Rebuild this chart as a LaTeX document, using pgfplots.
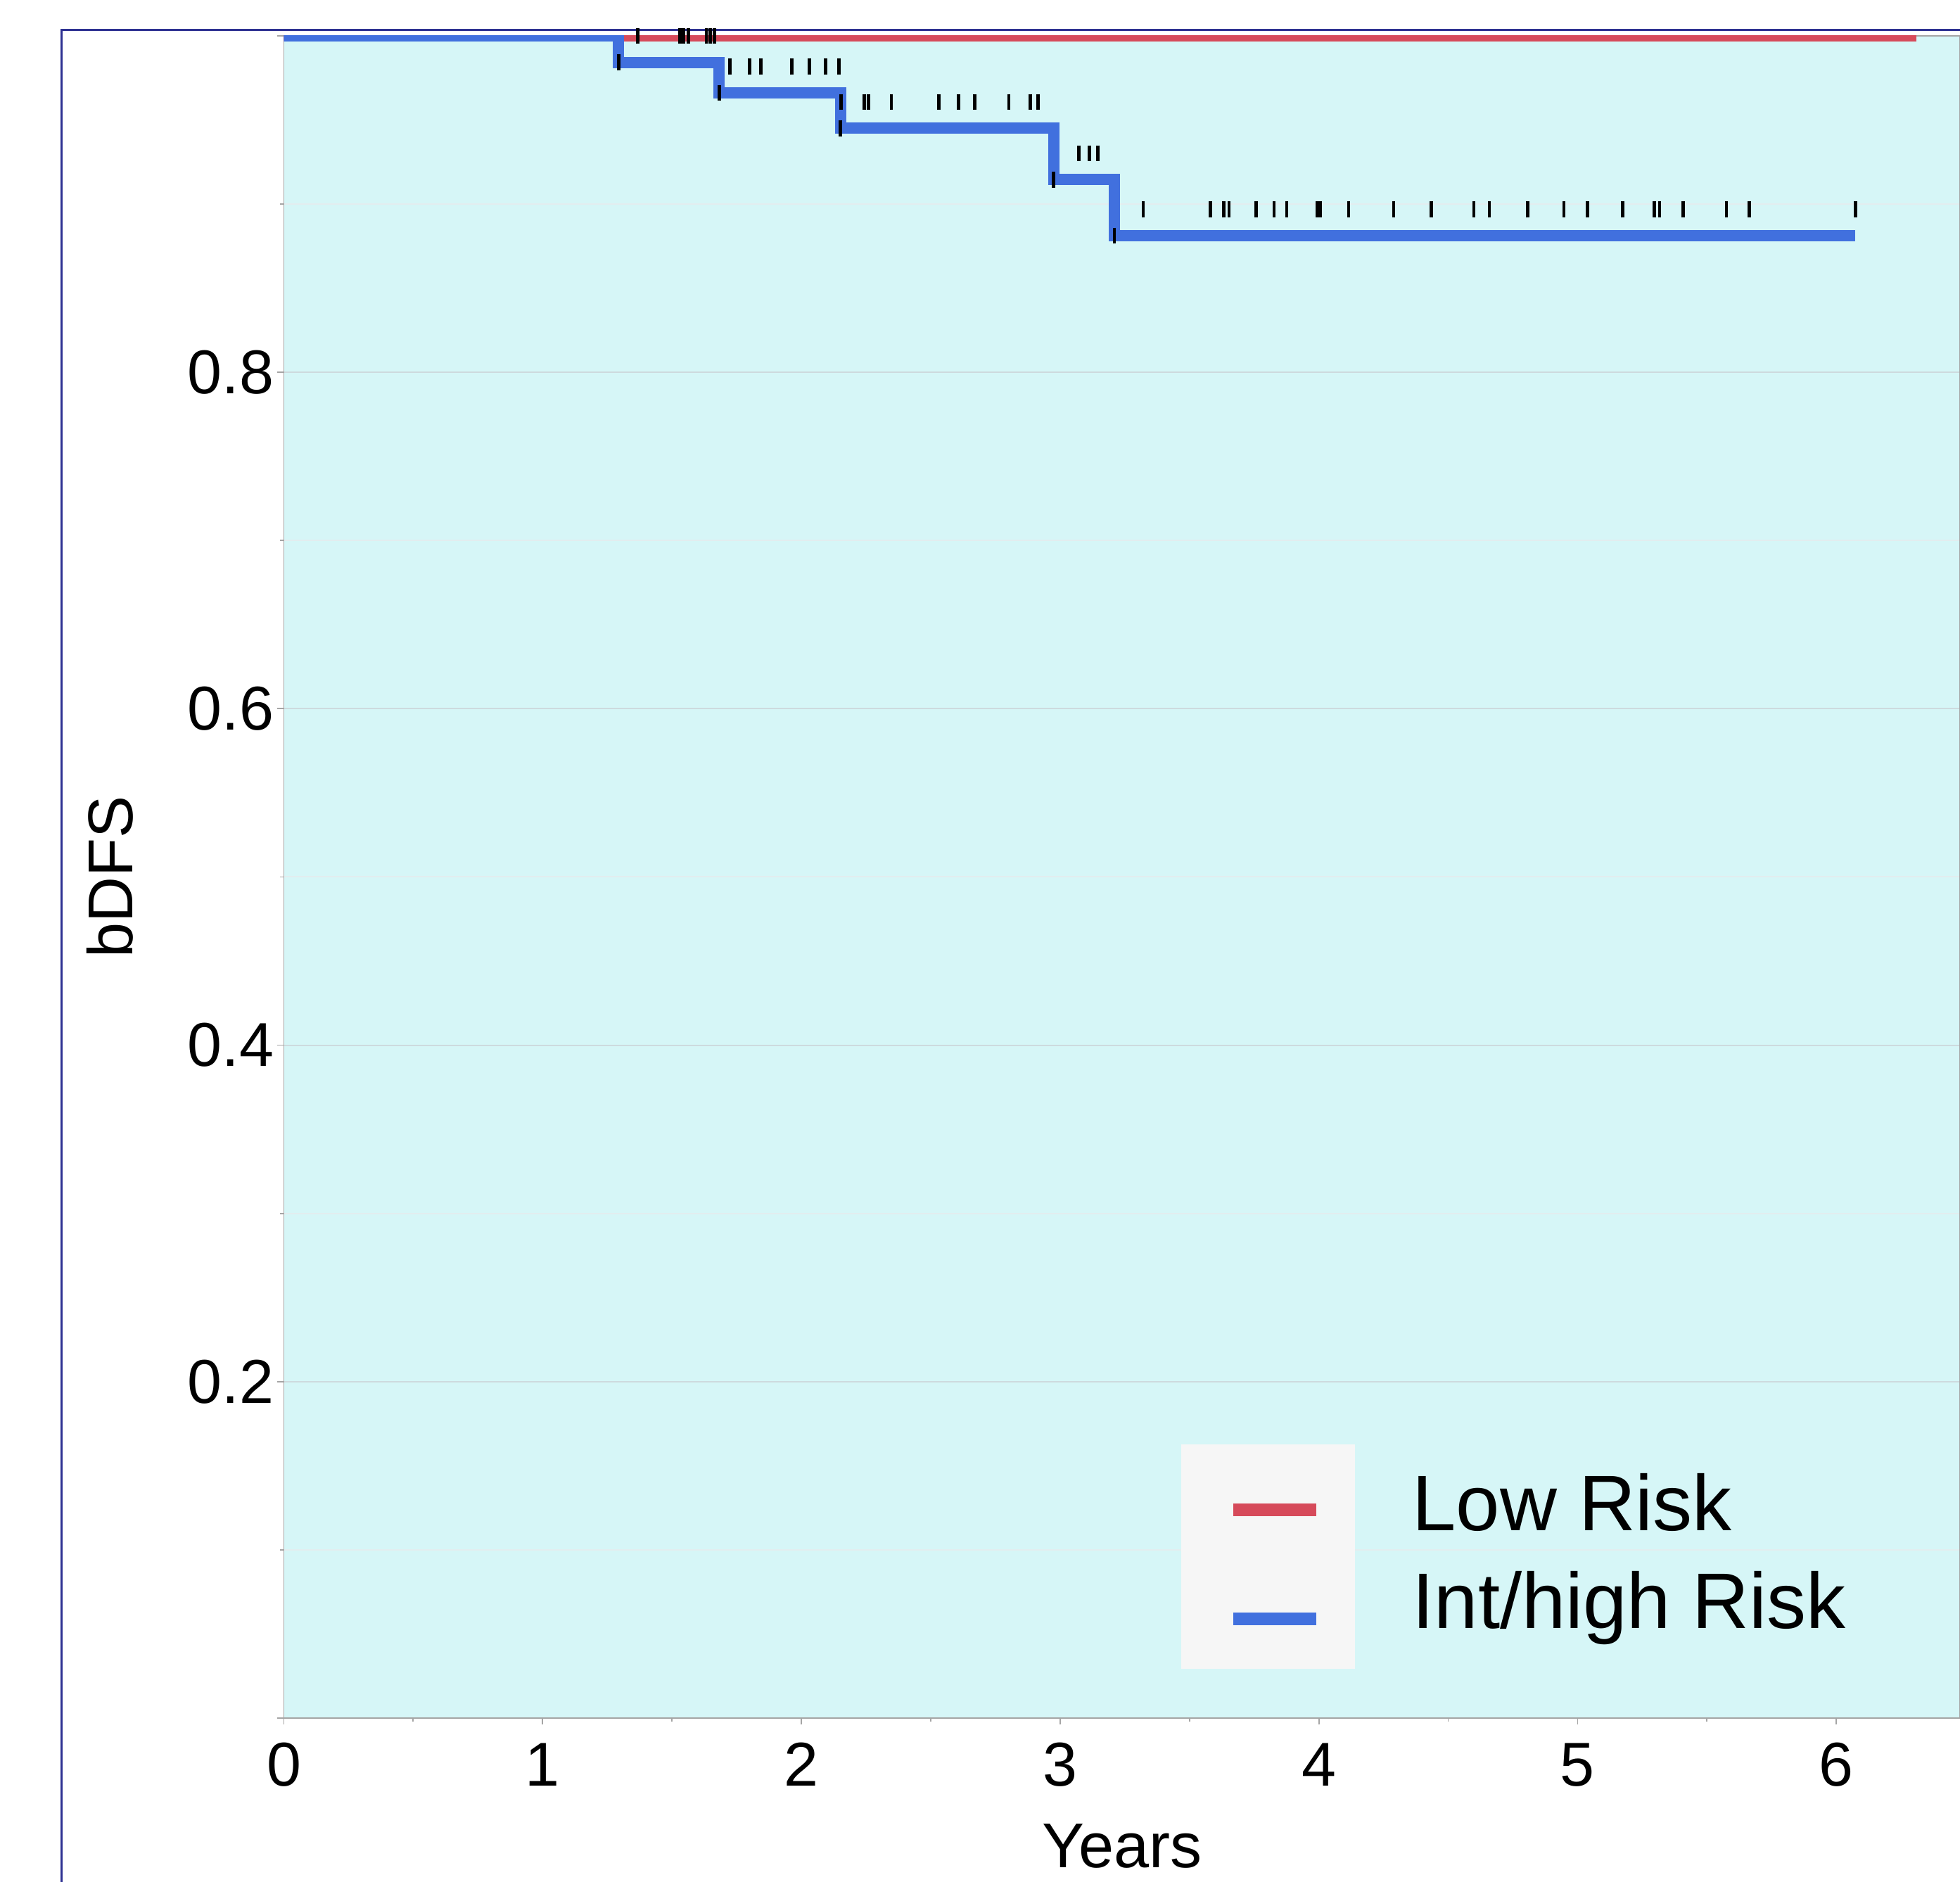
\documentclass[border=0pt]{standalone}
\usepackage{pgfplots}
\pgfplotsset{compat=1.18}
\usepackage{fontspec}
\setmainfont{Liberation Sans}
\definecolor{lowred}{RGB}{214,74,90}
\definecolor{highblue}{RGB}{65,112,222}
\definecolor{bgcyan}{RGB}{214,246,247}
\definecolor{legbg}{RGB}{246,246,246}
\definecolor{framenavy}{RGB}{46,49,146}
\definecolor{axgray}{RGB}{165,165,165}
\definecolor{gridmaj}{RGB}{205,218,222}
\definecolor{gridmin}{RGB}{226,237,239}
\pgfplotsset{
  redleg/.style={legend image code/.code={\draw[##1, line width=1.77pt] (0pt,0pt) -- (11.8pt,0pt);}},
  blueleg/.style={legend image code/.code={\draw[##1, line width=1.77pt] (0pt,-1.6pt) -- (11.8pt,-1.6pt);}},
}
\begin{document}
\begin{tikzpicture}
\useasboundingbox (-40.35pt,-23.3pt) rectangle (238.25pt,244.2pt);
\draw[framenavy, line width=0.3pt] (238.25pt,239.93pt) -- (-31.55pt,239.93pt) -- (-31.55pt,-23.3pt);
\begin{axis}[
  at={(0pt,0pt)}, anchor=south west,
  scale only axis, width=238.25pt, height=239.1pt,
  xmin=0, xmax=6.478, ymin=0, ymax=1,
  axis background/.style={fill=bgcyan},
  axis line style={axgray, line width=0.18pt},
  tick pos=left,
  tick align=outside,
  major tick length=0.95pt, minor tick length=0.55pt,
  every tick/.style={axgray, line width=0.18pt},
  xtick={0,1,2,3,4,5,6}, minor x tick num=1,
  ytick={0,0.2,0.4,0.6,0.8,1}, yticklabels={,0.2,0.4,0.6,0.8,},
  minor y tick num=1,
  ymajorgrids, yminorgrids,
  major grid style={gridmaj, line width=0.2pt},
  minor grid style={gridmin, line width=0.2pt},
  /pgf/number format/assume math mode=true,
  xticklabel style={font=\fontsize{8.8}{10}\selectfont, inner sep=0pt, anchor=north, yshift=-2.4pt},
  yticklabel style={font=\fontsize{8.8}{10}\selectfont, inner sep=0.3pt, anchor=east},
  every axis y label/.style={at={(axis description cs:-0.1037,0.5)}, rotate=90, anchor=center, font=\fontsize{9}{11}\selectfont},
  every axis x label/.style={at={(axis description cs:0.5,-0.0761)}, anchor=center, font=\fontsize{9}{11}\selectfont},
  xlabel={Years}, ylabel={bDFS},
  legend cell align=left,
  legend style={draw=none, fill=none, inner sep=0pt, outer sep=0pt,
    at={(rel axis cs:0.5626,0.1427)}, anchor=north west,
    font=\fontsize{11.2}{13}\selectfont,
    nodes={inner sep=0pt, text height=0.75em, text depth=0.15em},
    row sep=4.92pt,
    /tikz/every odd column/.append style={column sep=12.8pt}},
]
\fill[legbg] (rel axis cs:0.5354,0.0293) rectangle (rel axis cs:0.6390,0.1627);
\addplot[lowred, line width=1.6pt, const plot, redleg] coordinates {(0,1) (6.309,1)};
\addlegendentry{Low Risk}
\addplot[highblue, line width=1.6pt, const plot, blueleg] coordinates {
  (0,1) (1.294,0.9842) (1.682,0.9661) (2.151,0.9451) (2.975,0.9146) (3.21,0.8812) (6.074,0.8812)};
\addlegendentry{Int/high Risk}
% censor marks
\addplot[forget plot, only marks, mark=|, mark size=1.135pt, black, mark options={line width=0.48pt}] coordinates {
  (1.367,1) (1.530,1) (1.545,1) (1.563,1) (1.633,1) (1.648,1) (1.665,1)
  (1.294,0.9842) (1.682,0.9661) (2.151,0.9451) (2.975,0.9146) (3.21,0.8812)
  (1.724,0.9817) (1.801,0.9817) (1.844,0.9817) (1.963,0.9817) (2.030,0.9817) (2.094,0.9817) (2.146,0.9817)
  (2.153,0.9607) (2.244,0.9607) (2.259,0.9607) (2.348,0.9607) (2.532,0.9607) (2.608,0.9607) (2.671,0.9607) (2.802,0.9607) (2.885,0.9607) (2.914,0.9607)
  (3.072,0.9302) (3.114,0.9302) (3.145,0.9302)
  (3.321,0.8968) (3.580,0.8968) (3.633,0.8968) (3.653,0.8968) (3.758,0.8968) (3.827,0.8968) (3.876,0.8968) (3.995,0.8968) (4.006,0.8968) (4.115,0.8968) (4.289,0.8968) (4.434,0.8968) (4.599,0.8968) (4.659,0.8968) (4.808,0.8968) (4.947,0.8968) (5.038,0.8968) (5.174,0.8968) (5.297,0.8968) (5.317,0.8968) (5.408,0.8968) (5.575,0.8968) (5.664,0.8968) (6.075,0.8968)
};
\end{axis}
\end{tikzpicture}
\end{document}
